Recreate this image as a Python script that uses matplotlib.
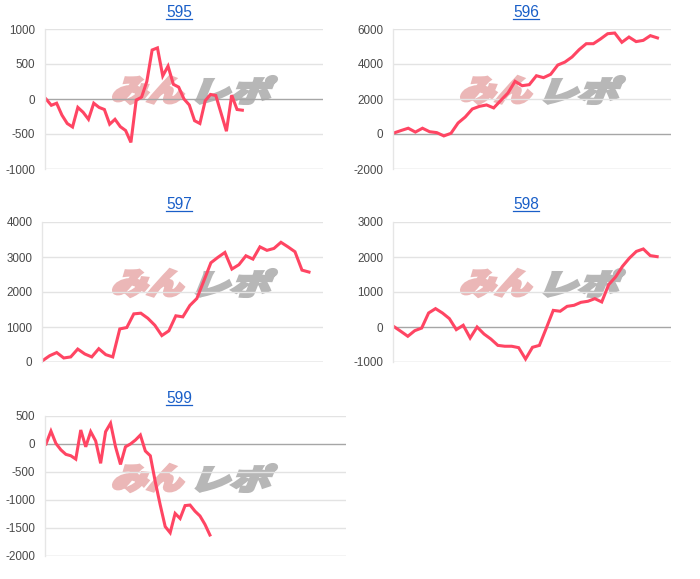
import matplotlib
matplotlib.use('Agg')
import matplotlib.pyplot as plt
from matplotlib.textpath import TextPath
from matplotlib.patches import PathPatch
from matplotlib.font_manager import FontProperties
from matplotlib.transforms import Affine2D, IdentityTransform

# 差枚データ
titles = ['595', '596', '597', '598', '599']

s595 = [0, -90, -60, -230, -350, -400, -120, -190, -290, -60, -120, -150, -360,
        -290, -395, -450, -620, -15, 25, 250, 700, 730, 330, 470, 210, 170, 0,
        -85, -310, -350, -25, 65, 50, -205, -460, 55, -150, -160]
s596 = [60, 200, 330, 110, 330, 130, 80, -110, 40, 630, 970, 1430, 1580, 1660,
        1490, 1920, 2340, 3010, 2760, 2820, 3330, 3220, 3410, 3940, 4110, 4400,
        4820, 5160, 5160, 5430, 5730, 5770, 5240, 5540, 5280, 5350, 5620, 5490]
s597 = [40, 180, 270, 115, 145, 370, 230, 145, 380, 210, 145, 945, 985, 1375,
        1395, 1250, 1050, 755, 890, 1320, 1290, 1615, 1815, 2320, 2835, 2990,
        3130, 2655, 2780, 3035, 2940, 3290, 3190, 3245, 3420, 3290, 3150, 2625, 2570]
s598 = [10, -125, -265, -105, -30, 400, 525, 400, 240, -75, 50, -315, 0, -200,
        -345, -525, -550, -550, -590, -915, -580, -525, -30, 475, 450, 590, 620,
        705, 735, 810, 715, 1210, 1430, 1735, 1970, 2160, 2230, 2040, 2010]
s599 = [0, 230, 10, -105, -185, -210, -270, 250, -50, 220, 55, -345, 220, 370,
        -50, -365, -50, 0, 70, 160, -125, -210, -675, -1090, -1475, -1585, -1240,
        -1330, -1100, -1090, -1200, -1285, -1435, -1625]
series = [s595, s596, s597, s598, s599]

yticks = [
    [-1000, -500, 0, 500, 1000],
    [-2000, 0, 2000, 4000, 6000],
    [0, 1000, 2000, 3000, 4000],
    [-1000, 0, 1000, 2000, 3000],
    [-2000, -1500, -1000, -500, 0, 500],
]

# レイアウト (ピクセル): left, top, right, bottom
W, H = 700, 579
boxes = [(45, 29, 323, 169), (393, 29, 671, 169), (42, 222, 323, 362),
         (393, 222, 671, 362), (45, 416, 346, 556)]
xlims = [(-0.19, 52.2), (-0.14, 38.9), (-0.1, 40.0), (-0.14, 40.0), (-0.2, 60.4)]
title_pos = [(179, 17), (526, 17), (179, 209), (526, 209), (179, 403)]
mark_origin = [(0, 0), (348, 0), (0, 193), (348, 193), (0, 388)]

fig = plt.figure(figsize=(W / 100, H / 100), dpi=100)
fig.patch.set_facecolor('white')

jp = FontProperties(family='Noto Sans CJK JP', weight='heavy')


def watermark(ax, text, color, x0, y0, x1, y1):
    # ロゴ風の斜体テキストを (x0,y0)-(x1,y1) ピクセル枠に収める
    p = TextPath((0, 0), text, size=40, prop=jp)
    p = Affine2D().skew_deg(16, 0).transform_path(p)
    ext = p.get_extents()
    sx = (x1 - x0 - 3) / ext.width
    sy = (y1 - y0 - 3) / ext.height
    t = (Affine2D().translate(-ext.x0, -ext.y0).scale(sx, sy)
         .translate(x0 + 1.5, H - y1 + 1.5))
    patch = PathPatch(t.transform_path(p), facecolor=color, edgecolor=color,
                      lw=2.2, joinstyle='miter', transform=IdentityTransform(),
                      zorder=0.3, clip_on=False)
    ax.add_artist(patch)


for i, vals in enumerate(series):
    l, t, r, b = boxes[i]
    ax = fig.add_axes([l / W, 1 - b / H, (r - l) / W, (b - t) / H])
    ax.set_axisbelow(True)
    ax.plot(range(len(vals)), vals, color='#ff4563', lw=2.2,
            solid_joinstyle='miter', zorder=2)
    ax.set_xlim(*xlims[i])
    ax.set_ylim(yticks[i][0], yticks[i][-1])
    ax.set_yticks(yticks[i])
    ax.set_yticklabels([str(v) for v in yticks[i]])
    ax.set_xticks([])
    ax.tick_params(axis='y', length=0, pad=7, labelsize=8.4, labelcolor='#4a4a4a')
    for lab in ax.get_yticklabels():
        lab.set_family('Liberation Sans')
    for v in yticks[i]:
        c = '#e3e3e3'
        if v == 0:
            c = '#a6a6a6'
        elif v == yticks[i][0]:
            c = '#c8c8c8'
        ax.axhline(v, color=c, lw=1, zorder=0.5)
    for s in ['top', 'right', 'bottom']:
        ax.spines[s].set_visible(False)
    ax.spines['left'].set_color('#e6e6e6')
    ax.spines['left'].set_linewidth(1)

    # ウォーターマーク
    ox, oy = mark_origin[i]
    watermark(ax, 'みん', '#ebb7b7', ox + 112, oy + 75, ox + 185, oy + 105)
    watermark(ax, 'レポ', '#b7b7b7', ox + 195, oy + 75, ox + 278, oy + 105)

    # タイトル (リンク風)
    tx, ty = title_pos[i]
    fig.text(tx / W, 1 - ty / H, titles[i], ha='center', va='baseline',
             fontsize=11.2, color='#1a5fc8', family='Liberation Sans')
    fig.add_artist(plt.Line2D([(tx - 13) / W, (tx + 13) / W],
                              [1 - (ty + 1.5) / H, 1 - (ty + 1.5) / H],
                              color='#1a5fc8', lw=0.9))

fig.savefig('out.png', dpi=100, facecolor='white')
